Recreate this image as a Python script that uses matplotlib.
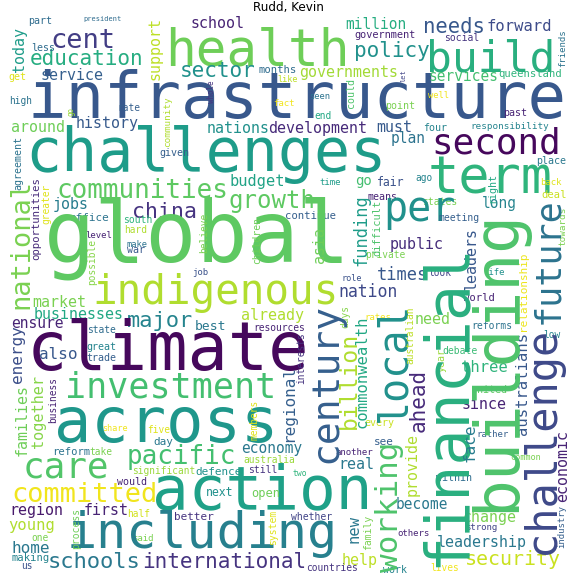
import matplotlib
matplotlib.use("Agg")
import matplotlib.pyplot as plt

# ---- data: words and their (estimated) relative frequency ----
words = [
    "infrastructure", "health", "school", "million", "government", "needs", "forward", "social",
    "cent", "part", "president", "education", "less", "service", "get", "sector", "months",
    "governments", "like", "policy", "build", "services", "queensland", "fact", "seen", "end",
    "well", "point", "high", "rate", "around", "history", "nations", "development", "must",
    "plan", "four", "responsibility", "past", "second", "challenges", "given", "term", "place",
    "back", "deal", "ago", "fair", "time", "go", "budget", "communities", "growth", "means",
    "states", "long", "per", "meeting", "jobs", "china", "office", "south", "hard", "level",
    "make", "war", "continue", "public", "global", "job", "role", "private", "times", "look",
    "life", "nation", "indigenous", "market", "businesses", "ensure", "major", "state",
    "already", "best", "resources", "rates", "world", "need", "reforms", "low", "climate",
    "also", "great", "trade", "debate", "three", "united", "since", "investment", "every",
    "share", "five", "across", "rather", "see", "care", "reform", "take", "day", "pacific",
    "economy", "australia", "another", "real", "significant", "defence", "still", "two",
    "would", "common", "within", "committed", "action", "next", "open", "become", "region",
    "first", "half", "better", "whether", "change", "strong", "young", "others", "one", "said",
    "including", "leadership", "home", "making", "us", "schools", "international", "help",
    "countries", "security", "lives", "work",
    # vertical words
    "today", "support", "friends", "let", "whole", "could", "go", "community", "agreement",
    "national", "opportunities", "greater", "possible", "difficult", "funding", "asia",
    "children", "believe", "right", "towards", "future", "leaders", "relationship", "days",
    "century", "billion", "commonwealth", "interests", "regional", "local", "australian",
    "year", "australians", "ahead", "financial", "building", "challenge", "energy", "families",
    "together", "business", "members", "face", "provide", "economic", "working", "industry",
    "process", "system", "new", "family",
]

freq = [
    64, 51, 15, 14.5, 10.3, 20.5, 15.5, 9.7,
    27, 10, 7, 21, 10, 15, 10, 21, 10.5,
    15, 8.5, 21, 43, 14.5, 10.5, 9, 8.7, 9.5,
    8.7, 10, 9.5, 9.5, 15, 15, 15, 15, 15,
    14.5, 10, 9.3, 10, 36, 60, 10, 52, 10,
    9, 10.5, 9.5, 11.5, 9, 14, 15.4, 26, 24, 10,
    9.7, 14.5, 40, 9.7, 15, 21.5, 11, 9.7, 9.5, 9,
    8.7, 10, 10.6, 15, 85, 9, 8.5, 9.5, 17, 9.5,
    9, 16.5, 41, 15, 15, 14.6, 22, 9.6,
    15, 13, 9.6, 9, 10.5, 15, 9.8, 9.5, 67,
    16, 10, 10, 9.7, 15.5, 10, 15, 35, 10,
    8.5, 9.5, 62, 9, 11, 36, 10.5, 9.5, 11, 26,
    14.5, 9.6, 9, 15, 9.5, 11, 9.7, 8,
    10, 8.5, 10, 27, 61, 11.5, 12, 14.5, 15,
    15, 9.5, 11, 9.7, 15, 9, 15.5, 9, 9.5, 9,
    50, 15, 16, 10.5, 9.5, 22, 21, 15,
    9.6, 20, 9.5, 10,
    # vertical words
    15, 15, 9, 7, 7.5, 10, 7.5, 9.4, 10,
    27, 10.6, 9.5, 9.5, 10.4, 17, 15,
    9.8, 9.5, 10, 9.3, 35, 15, 11, 9.5,
    38, 23, 15.5, 9.5, 16, 40, 9.6,
    10, 15.5, 21, 60, 63, 42, 16, 15,
    15.3, 9.5, 9.5, 16, 15, 15, 31, 9,
    9.8, 9.7, 15.5, 9.7,
]

# ---- layout (pixel anchor x, y; vertical flag; viridis position) ----
# horizontal words: x = centre of word, y = baseline
# vertical words:   x = baseline, y = centre of word
layout = [
    (297, 118, 0, 0.27), (257, 65, 0, 0.78), (218, 28, 0, 0.10), (376, 29, 0, 0.62),
    (385, 38, 0, 0.10), (454, 33, 0, 0.27), (519, 31, 0, 0.23), (462, 41, 0, 0.15),
    (83, 48, 0, 0.18), (40, 24, 0, 0.35), (103, 21, 0, 0.35), (87, 65, 0, 0.62),
    (43, 51, 0, 0.35), (72, 80, 0, 0.30), (17, 80, 0, 0.95), (218, 77, 0, 0.50),
    (278, 73, 0, 0.35), (349, 77, 0, 0.86), (288, 82, 0, 0.90), (392, 57, 0, 0.50),
    (491, 71, 0, 0.63), (463, 81, 0, 0.70), (530, 77, 0, 0.65), (284, 106, 0, 0.98),
    (320, 99, 0, 0.38), (323, 119, 0, 0.60), (439, 98, 0, 0.98), (400, 109, 0, 0.80),
    (21, 104, 0, 0.38), (129, 111, 0, 0.30), (38, 132, 0, 0.78), (107, 128, 0, 0.28),
    (238, 133, 0, 0.50), (318, 133, 0, 0.12), (394, 132, 0, 0.28), (408, 143, 0, 0.38),
    (435, 131, 0, 0.45), (510, 129, 0, 0.45), (515, 116, 0, 0.10), (496, 153, 0, 0.02),
    (206, 171, 0, 0.55), (174, 156, 0, 0.30), (490, 193, 0, 0.65), (551, 164, 0, 0.40),
    (551, 185, 0, 0.95), (554, 198, 0, 0.92), (424, 181, 0, 0.45), (391, 186, 0, 0.25),
    (330, 185, 0, 0.55), (363, 185, 0, 0.70), (257, 186, 0, 0.58), (142, 198, 0, 0.75),
    (272, 208, 0, 0.75), (383, 200, 0, 0.10), (440, 205, 0, 0.80), (499, 208, 0, 0.45),
    (419, 221, 0, 0.50), (459, 221, 0, 0.30), (71, 209, 0, 0.42), (164, 218, 0, 0.15),
    (89, 221, 0, 0.38), (138, 223, 0, 0.65), (136, 233, 0, 0.88), (99, 238, 0, 0.10),
    (137, 247, 0, 0.38), (136, 253, 0, 0.27), (310, 219, 0, 0.30), (417, 249, 0, 0.13),
    (197, 262, 0, 0.75), (200, 275, 0, 0.25), (352, 281, 0, 0.25), (385, 258, 0, 0.80),
    (402, 280, 0, 0.27), (440, 276, 0, 0.20), (494, 275, 0, 0.50), (368, 297, 0, 0.22),
    (216, 304, 0, 0.88), (59, 307, 0, 0.80), (79, 319, 0, 0.60), (37, 328, 0, 0.10),
    (160, 327, 0, 0.45), (101, 333, 0, 0.35), (273, 320, 0, 0.88), (210, 330, 0, 0.40),
    (279, 331, 0, 0.10), (378, 320, 0, 0.98), (479, 301, 0, 0.10), (433, 324, 0, 0.80),
    (492, 329, 0, 0.38), (552, 338, 0, 0.45), (168, 370, 0, 0.02), (58, 359, 0, 0.27),
    (101, 350, 0, 0.45), (101, 361, 0, 0.30), (460, 354, 0, 0.68), (484, 372, 0, 0.65),
    (489, 393, 0, 0.75), (484, 409, 0, 0.10), (171, 398, 0, 0.70), (379, 426, 0, 0.92),
    (115, 431, 0, 0.98), (159, 433, 0, 0.95), (166, 442, 0, 0.53), (493, 437, 0, 0.30),
    (384, 445, 0, 0.30), (66, 478, 0, 0.73), (71, 455, 0, 0.38), (101, 455, 0, 0.80),
    (163, 445, 0, 0.40), (181, 464, 0, 0.70), (272, 453, 0, 0.40), (269, 463, 0, 0.85),
    (354, 455, 0, 0.10), (356, 469, 0, 0.40), (164, 474, 0, 0.85), (219, 475, 0, 0.50),
    (263, 473, 0, 0.15), (300, 476, 0, 0.65), (132, 485, 0, 0.10), (526, 460, 0, 0.80),
    (454, 481, 0, 0.35), (85, 502, 0, 0.98), (262, 508, 0, 0.57), (220, 496, 0, 0.50),
    (266, 497, 0, 0.78), (422, 509, 0, 0.40), (36, 515, 0, 0.07), (106, 515, 0, 0.10),
    (139, 517, 0, 0.93), (194, 520, 0, 0.15), (312, 520, 0, 0.20), (490, 522, 0, 0.80),
    (481, 530, 0, 0.20), (32, 530, 0, 0.88), (413, 536, 0, 0.10), (40, 541, 0, 0.80),
    (143, 541, 0, 0.80), (202, 548, 0, 0.43), (482, 547, 0, 0.40), (31, 553, 0, 0.40),
    (31, 561, 0, 0.45), (27, 569, 0, 0.25), (94, 568, 0, 0.40), (224, 568, 0, 0.15),
    (360, 565, 0, 0.90), (332, 571, 0, 0.15), (513, 565, 0, 0.92), (445, 571, 0, 0.98),
    (395, 573, 0, 0.45),
    # vertical words
    (24, 50, 1, 0.55), (159, 48, 1, 0.90), (565, 48, 1, 0.38), (406, 76, 1, 0.20),
    (214, 92, 1, 0.15), (354, 93, 1, 0.72), (73, 111, 1, 0.85), (170, 122, 1, 0.88),
    (21, 163, 1, 0.38), (28, 244, 1, 0.80), (39, 219, 1, 0.12), (49, 204, 1, 0.95),
    (95, 262, 1, 0.82), (380, 228, 1, 0.72), (366, 230, 1, 0.55), (324, 245, 1, 0.78),
    (260, 240, 1, 0.78), (207, 233, 1, 0.80), (495, 188, 1, 0.60), (565, 226, 1, 0.80),
    (558, 261, 1, 0.38), (476, 258, 1, 0.27), (526, 291, 1, 0.97), (348, 316, 1, 0.82),
    (336, 383, 1, 0.30), (356, 380, 1, 0.88), (366, 372, 1, 0.60), (304, 358, 1, 0.15),
    (293, 403, 1, 0.30), (405, 362, 1, 0.50), (413, 335, 1, 0.90), (444, 360, 1, 0.85),
    (527, 383, 1, 0.27), (425, 400, 1, 0.12), (464, 404, 1, 0.63), (514, 360, 1, 0.72),
    (554, 440, 1, 0.22), (22, 354, 1, 0.24), (27, 420, 1, 0.78), (43, 411, 1, 0.82),
    (56, 400, 1, 0.10), (258, 420, 1, 0.95), (474, 443, 1, 0.42), (417, 465, 1, 0.88),
    (567, 466, 1, 0.10), (398, 507, 1, 0.72), (564, 527, 1, 0.30), (79, 528, 1, 0.78),
    (276, 527, 1, 0.95), (359, 529, 1, 0.40), (371, 532, 1, 0.80),
]

W = H = 576
fig = plt.figure(figsize=(8, 8), dpi=72)
fig.patch.set_facecolor("white")
ax = fig.add_axes([0, 0, 1, 1])
ax.set_xlim(0, W)
ax.set_ylim(H, 0)
ax.axis("off")

cmap = plt.get_cmap("viridis")
for word, f, (x, y, vert, shade) in zip(words, freq, layout):
    ax.text(x, y, word, fontsize=f, family="DejaVu Sans Mono", color=cmap(shade),
            rotation=90 if vert else 0, rotation_mode="anchor",
            ha="center", va="baseline")

fig.text(0.5, 1 - 10.5 / H, "Rudd, Kevin", ha="center", va="baseline", fontsize=12)
fig.savefig("out.png", dpi=72, facecolor="white")
